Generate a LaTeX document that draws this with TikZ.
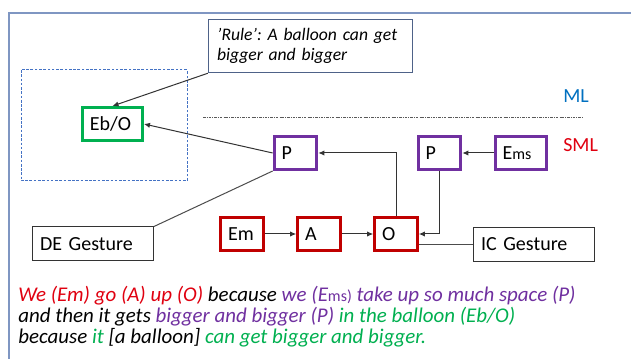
\documentclass[tikz,border=0pt]{standalone}
\usepackage{fontspec}
\setmainfont{Carlito}
\usepackage{xcolor}
\usepackage{tikz}
\usetikzlibrary{arrows.meta,positioning}
\definecolor{boxred}{HTML}{C00000}
\definecolor{boxpurple}{HTML}{7030A0}
\definecolor{boxgreen}{HTML}{00B050}
\definecolor{txtred}{HTML}{E00010}
\definecolor{mlblue}{HTML}{0070C0}
\definecolor{framegrey}{HTML}{7F96C2}
\definecolor{rulegrey}{HTML}{4E6288}
\definecolor{dashblue}{HTML}{4472C4}
\newcommand{\smallms}{\fontsize{12pt}{12pt}\selectfont}
\frenchspacing

\begin{document}
\begin{tikzpicture}[
        x=0.75pt, y=-0.75pt,
        font=\fontsize{15pt}{17pt}\selectfont,
        node distance=23.5pt,
        tag/.style={draw=#1, line width=2.25pt, minimum height=24.75pt, inner xsep=5.5pt, inner ysep=0pt, align=left, text width=21pt},
        gesture/.style={draw=black!80, line width=0.75pt, minimum height=25.5pt, inner xsep=5.6pt, inner ysep=0pt, align=left, text width=79.5pt},
        rulebox/.style={draw=rulegrey, line width=1.1pt, minimum height=39.75pt, inner xsep=6.4pt, align=left, text width=140pt, font=\itshape\fontsize{13.2pt}{15pt}\selectfont},
        arrow/.style={-{Latex[length=4.5pt,width=4pt]}, line width=0.75pt, draw=black!80},
        link/.style={line width=0.75pt, draw=black!70}
    ]
    \useasboundingbox[fill=white] (0,0) rectangle (631,359);
    % frame and levels
    \draw[framegrey, line width=1.1pt] (9,359) -- (9,13) -- (631,13);
    \draw[dashblue, line width=0.75pt, dash pattern=on 2pt off 1.2pt] (21,70) rectangle (187,181);
    \draw[black!65, line width=0.75pt, dash pattern=on 2pt off 0.8pt on 0.6pt off 0.8pt] (203,118) -- (582,118);
    \node[anchor=base west, inner sep=0pt, text=mlblue] (ml) at (563,103) {ML};
    \node[anchor=base west, inner sep=0pt, text=txtred] (sml) at (563,152) {SML};

    \node[rulebox] (rule) at (310.5,46) {’Rule’: A balloon can get\\bigger and bigger};
    \node[tag=boxgreen, text width=34pt] (ebo) at (112.5,124) {Eb/O};
    \node[tag=boxpurple] (p1) at (295.5,153) {P};
    \node[tag=boxpurple] (p2) at (439.5,153) {P};
    \node[tag=boxpurple, text width=27.25pt, right=of p2] (ems) {E{\smallms ms}};
    \node[tag=boxred] (em) at (242,234) {Em};
    \node[tag=boxred, right=of em] (a) {A};
    \node[tag=boxred, right=of a] (o) {O};
    \node[gesture] (de) at (93,244) {DE Gesture};
    \node[gesture] (ic) at (534,244.5) {IC Gesture};

    \draw[arrow] (rule.south west) -- (ebo.north);
    \draw[arrow] (p1.west) -- (ebo.east);
    \draw[link] (p1.south west) -- (de.north east);
    \draw[arrow] (o.north) |- (p1.east);
    \draw[arrow] (ems) -- (p2);
    \draw[arrow] (p2.south) |- (o.east);
    \draw[arrow] (em) -- (a);
    \draw[arrow] (a) -- (o);
    \draw[link] (ic.west) -- (ic.west -| o.east);

    % reading of the gesture
    \node[anchor=base west, align=left, inner sep=0pt, font=\itshape\fontsize{15.7pt}{15.9pt}\selectfont] (story) at (18,344)
        {\textcolor{txtred}{We (Em) go (A) up (O)} because \textcolor{boxpurple}{we (E{\smallms\upshape ms)} take up so much space (P)}\\
         and then it gets \textcolor{boxpurple}{bigger and bigger (P)} \textcolor{boxgreen}{in the balloon (Eb/O)}\\
         because \textcolor{boxgreen}{it} [a balloon] \textcolor{boxgreen}{can get bigger and bigger.}};
\end{tikzpicture}
\end{document}
